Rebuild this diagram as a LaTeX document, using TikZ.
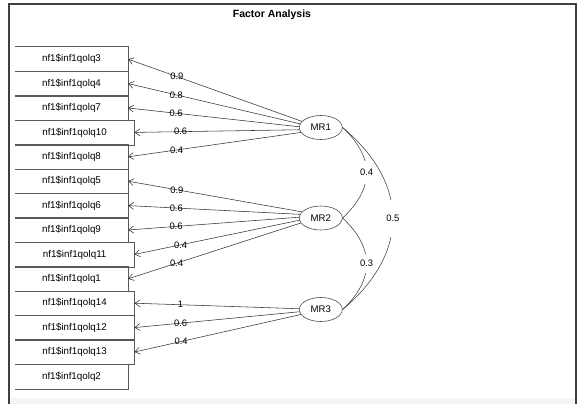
\documentclass[tikz,border=0pt]{standalone}
\usepackage{fontspec}
\setmainfont{Liberation Sans}
\usetikzlibrary{arrows.meta,shapes.geometric}

\begin{document}
\begin{tikzpicture}[
    x=1pt, y=-1pt,
    var/.style={rectangle, minimum width=113pt, minimum height=24.4pt, inner sep=0pt, font=\fontsize{9.8}{11}\selectfont},
    wide/.style={var, minimum width=119.3pt},
    side/.style={draw=black!65, line width=0.6pt},
    factor/.style={draw=black!70, ellipse, minimum width=43pt, minimum height=24pt, inner sep=0pt, line width=0.6pt, font=\fontsize{9.6}{11}\selectfont},
    load/.style={-{Straight Barb[length=5pt, width=7pt]}, draw=black!80, line width=0.55pt},
    lbl/.style={pos=0.72, inner sep=0pt, font=\fontsize{9.4}{11}\selectfont},
    corr/.style={draw=black!75, line width=0.55pt},
    clbl/.style={fill=white, inner xsep=1.5pt, font=\fontsize{9.4}{11}\selectfont}
  ]
    \useasboundingbox (0,0) rectangle (579,404);

    %% ---- window frame and title ----
    \fill[black!4] (9,398) rectangle (576,404);
    \draw[black!75, line width=1.4pt] (9,404) -- (9,4) -- (576,4) -- (576,404);
    \node[font=\bfseries\fontsize{10.5}{12}\selectfont] (title) at (272,15) {Factor Analysis};

    %% ---- Left column: observed items ----
    \node[var]  (q3)  at (71.5, 59.2)  {nf1\$inf1qolq3};
    \node[var]  (q4)  at (71.5, 83.6)  {nf1\$inf1qolq4};
    \node[var]  (q7)  at (71.5,108.0)  {nf1\$inf1qolq7};
    \node[wide] (q10) at (74.65,132.4) {nf1\$inf1qolq10};
    \node[var]  (q8)  at (71.5,156.8)  {nf1\$inf1qolq8};
    \node[var]  (q5)  at (71.5,181.2)  {nf1\$inf1qolq5};
    \node[var]  (q6)  at (71.5,205.6)  {nf1\$inf1qolq6};
    \node[var]  (q9)  at (71.5,230.0)  {nf1\$inf1qolq9};
    \node[wide] (q11) at (74.65,254.4) {nf1\$inf1qolq11};
    \node[var]  (q1)  at (71.5,278.8)  {nf1\$inf1qolq1};
    \node[wide] (q14) at (74.65,303.2) {nf1\$inf1qolq14};
    \node[wide] (q12) at (74.65,327.6) {nf1\$inf1qolq12};
    \node[wide] (q13) at (74.65,352.0) {nf1\$inf1qolq13};
    \node[var]  (q2)  at (71.5,376.4)  {nf1\$inf1qolq2};
    % boxes are open on the left
    \foreach \v in {q3,q4,q7,q10,q8,q5,q6,q9,q11,q1,q14,q12,q13,q2}
      \draw[side] (\v.north west) -- (\v.north east) -- (\v.south east) -- (\v.south west);

    %% ---- Right column: factors ----
    \node[factor] (mr1) at (320.8,127.5) {MR1};
    \node[factor] (mr2) at (320.8,218.0) {MR2};
    \node[factor] (mr3) at (320.8,309.5) {MR3};

    \draw[load] (mr1.162) -- node[lbl]{0.9} (q3.east);
    \draw[load] (mr1.170) -- node[lbl]{0.8} (q4.east);
    \draw[load] (mr1.178) -- node[lbl]{0.6} (q7.east);
    \draw[load] (mr1.186) -- node[lbl]{0.6} (q10.east);
    \draw[load] (mr1.194) -- node[lbl]{0.4} (q8.east);

    \draw[load] (mr2.162) -- node[lbl]{0.9} (q5.east);
    \draw[load] (mr2.170) -- node[lbl]{0.6} (q6.east);
    \draw[load] (mr2.178) -- node[lbl]{0.6} (q9.east);
    \draw[load] (mr2.186) -- node[lbl]{0.4} (q11.east);
    \draw[load] (mr2.194) -- node[lbl]{0.4} (q1.east);

    \draw[load] (mr3.178) -- node[lbl]{1}   (q14.east);
    \draw[load] (mr3.186) -- node[lbl]{0.6} (q12.east);
    \draw[load] (mr3.194) -- node[lbl]{0.4} (q13.east);

    %% ---- factor correlations ----
    \draw[corr] (mr1.east) .. controls +(32,30) and +(32,-30) .. node[clbl, inner ysep=8pt]{0.4} (mr2.east);
    \draw[corr] (mr2.east) .. controls +(32,30) and +(32,-30) .. node[clbl, inner ysep=6pt]{0.3} (mr3.east);
    \draw[corr] (mr1.east) .. controls +(67,56) and +(67,-56) .. node[clbl, inner ysep=15.5pt]{0.5} (mr3.east);
  \end{tikzpicture}
\end{document}
